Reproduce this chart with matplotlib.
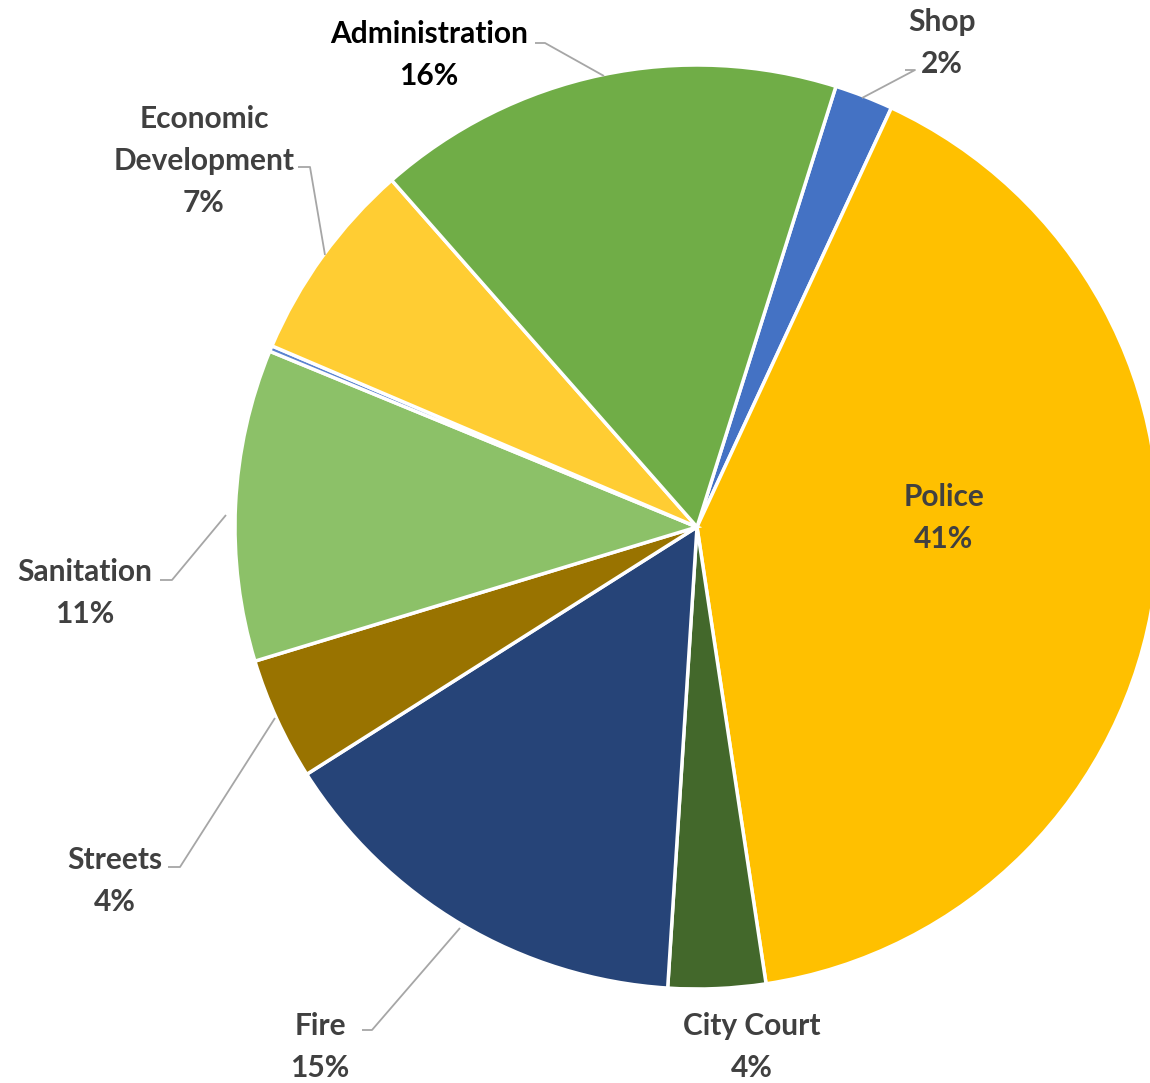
import numpy as np
import matplotlib.pyplot as plt

# slices clockwise from the Shop/Administration boundary
names = ['Shop', 'Police', 'City Court', 'Fire', 'Streets', 'Sanitation', 'Other',
         'Economic\nDevelopment', 'Administration']
shares = [2.05, 40.7, 3.4, 15.0, 4.3, 10.9, 0.2, 7.1, 16.35]
colors = ['#4472C4', '#FFC000', '#43682B', '#264478', '#997300', '#8CC168',
          '#5B83D0', '#FFCD33', '#70AD47']
pct_labels = ['2%', '41%', '4%', '15%', '4%', '11%', '', '7%', '16%']

W, H = 1150, 1083
cx, cy, R = 697, H - 527, 462

# label anchor (pixel, y down) and leader elbow points
label_pos = {0: (942, 43), 1: (944, 518), 2: (752, 1047), 3: (320, 1047),
             4: (115, 881), 5: (85, 593), 7: (204, 161), 8: (429, 55)}
leaders = {0: [(905, 70), (915, 70), (862, 98)],
           3: [(362, 1030), (372, 1030), (460, 928)],
           4: [(168, 867), (180, 867), (275, 718)],
           5: [(160, 580), (172, 580), (226, 515)],
           7: [(298, 167), (310, 167), (325, 255)],
           8: [(535, 43), (545, 43), (604, 76)]}

plt.rcParams['font.family'] = ['Lato', 'DejaVu Sans']

fig = plt.figure(figsize=(W / 100, H / 100), dpi=100)
ax = fig.add_axes([0, 0, 1, 1])
ax.set_xlim(0, W)
ax.set_ylim(0, H)
ax.set_aspect('equal')
ax.axis('off')

wedges, _ = ax.pie(shares, colors=colors, center=(cx, cy), radius=R,
                   startangle=90 - 17.5, counterclock=False,
                   wedgeprops=dict(edgecolor='white', linewidth=2.5))
ax.set_xlim(0, W)
ax.set_ylim(0, H)

for i, pts in leaders.items():
    xs = [p[0] for p in pts]
    ys = [H - p[1] for p in pts]
    ax.plot(xs, ys, color='#A6A6A6', lw=1.3, solid_capstyle='butt')

for i, (x, y) in label_pos.items():
    col = 'black' if i == 8 else '#404040'
    ax.text(x, H - y, names[i] + '\n' + pct_labels[i], ha='center', va='center',
            fontsize=21.5, fontweight='bold', color=col, linespacing=1.6)

fig.savefig('out.png', dpi=100)
